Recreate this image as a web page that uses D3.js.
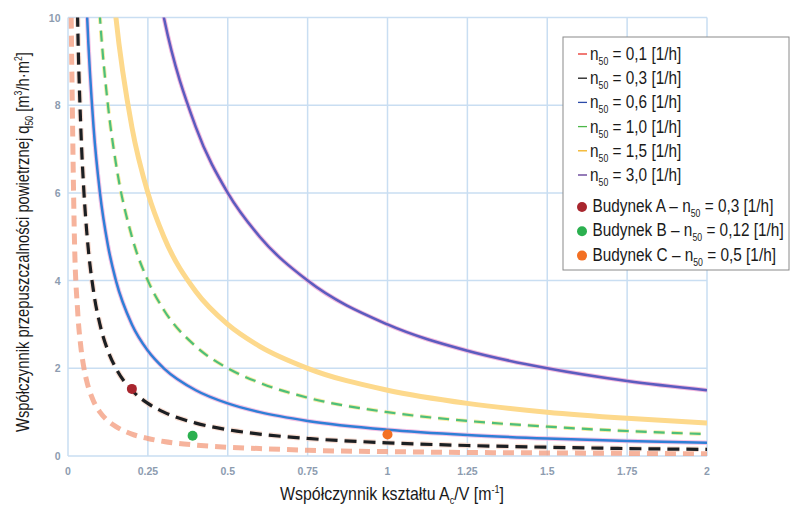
<!DOCTYPE html>
<html><head><meta charset="utf-8">
<script src="https://cdn.jsdelivr.net/npm/d3@7"></script>
<style>body{margin:0;background:#fff}</style></head>
<body><svg id="c" width="800" height="507"></svg>
<script>
// Shape factor A/V (x) values at which curves were read
const xs = [0.01,0.02,0.03,0.04,0.05,0.06,0.08,0.1,0.125,0.15,0.2,0.25,0.3,0.4,0.5,0.6,0.75,1,1.25,1.5,1.75,2];
// q50
const q01 = [10,5,3.33,2.5,2,1.67,1.25,1,0.8,0.67,0.5,0.4,0.33,0.25,0.2,0.17,0.13,0.1,0.08,0.07,0.06,0.05];
const q03 = [30,15,10,7.5,6,5,3.75,3,2.4,2,1.5,1.2,1,0.75,0.6,0.5,0.4,0.3,0.24,0.2,0.17,0.15];
const q06 = [60,30,20,15,12,10,7.5,6,4.8,4,3,2.4,2,1.5,1.2,1,0.8,0.6,0.48,0.4,0.34,0.3];
const q10 = [100,50,33,25,20,16.7,12.5,10,8,6.67,5,4,3.33,2.5,2,1.67,1.33,1,0.8,0.67,0.57,0.5];
const q15 = [150,75,50,37.5,30,25,18.75,15,12,10,7.5,6,5,3.75,3,2.5,2,1.5,1.2,1,0.86,0.75];
const q30 = [300,150,100,75,60,50,37.5,30,24,20,15,12,10,7.5,6,5,4,3,2.4,2,1.71,1.5];
const seriesNames = ["0,1","0,3","0,6","1,0","1,5","3,0"];
const legendColors = ["#e8322a","#1a1a1a","#2b4aa8","#4cb748","#f2b01e","#5b3592"];
// Buildings
const bNames = ["A","B","C"];
const bX = [0.2,0.39,1.0];
const bQ = [1.53,0.46,0.49];
const bN = ["0,3","0,12","0,5"];
const bColors = ["#a8262e","#2bb04f","#f37023"];
// ticks
const xTicks = [0,0.25,0.5,0.75,1,1.25,1.5,1.75,2];
const xTickLabels = ["0","0.25","0.5","0.75","1","1.25","1.5","1.75","2"];
const yTicks = [0,2,4,6,8,10];

const svg = d3.select("#c");
const x = d3.scaleLinear().domain([0,2]).range([68,707]);
const y = d3.scaleLinear().domain([0,10]).range([456,17.5]);
const FONT = "'Liberation Sans','Arial',sans-serif";

svg.append("defs").append("clipPath").attr("id","clip")
  .append("rect").attr("x",x(0)).attr("y",y(10)).attr("width",x(2)-x(0)).attr("height",y(0)-y(10));

// grid
const g = svg.append("g");
g.selectAll("line.v").data(xTicks).join("line")
  .attr("x1",d=>x(d)).attr("x2",d=>x(d)).attr("y1",y(10)).attr("y2",y(0))
  .attr("stroke","#c9def2").attr("stroke-width",1.5);
g.selectAll("line.h").data(yTicks).join("line")
  .attr("x1",x(0)).attr("x2",x(2)).attr("y1",d=>y(d)).attr("y2",d=>y(d))
  .attr("stroke","#c9def2").attr("stroke-width",1.5);

// tick labels
g.selectAll("text.xt").data(xTicks).join("text")
  .attr("x",d=>x(d)).attr("y",474.5).attr("text-anchor","middle")
  .attr("font-family",FONT).attr("font-size",10.5).attr("font-weight","bold")
  .attr("fill","#8d9cb0").text((d,i)=>xTickLabels[i]);
g.selectAll("text.yt").data(yTicks).join("text")
  .attr("x",60.5).attr("y",d=>y(d)+4).attr("text-anchor","end")
  .attr("font-family",FONT).attr("font-size",10.5).attr("font-weight","bold")
  .attr("fill","#8d9cb0").text(d=>d);

// curves
const line = d3.line().x((d,i)=>x(xs[i])).y(d=>y(d)).curve(d3.curveMonotoneX);
const plot = svg.append("g").attr("clip-path","url(#clip)");
const styles = [
  {data:q01, layers:[{c:"#f4a083",w:5,dash:"11,7",o:0.8}]},
  {data:q03, layers:[{c:"#f6c9b8",w:5.5,dash:"12,7",o:0.6},{c:"#1c1f22",w:3.2,dash:"12,7",o:1}]},
  {data:q06, layers:[{c:"#f1b3de",w:4.5,o:0.8},{c:"#2f7fd6",w:2.5,o:1}]},
  {data:q10, layers:[{c:"#f3e06a",w:4,dash:"11,7",o:0.6},{c:"#4dbf7a",w:2.2,dash:"11,7",o:1}]},
  {data:q15, layers:[{c:"#fdd98c",w:5,o:1}]},
  {data:q30, layers:[{c:"#f0a8d6",w:4.5,o:0.8},{c:"#5b5cbf",w:2.5,o:1}]}
];
styles.forEach(s=>{
  s.layers.forEach(l=>{
    plot.append("path").datum(s.data).attr("d",line).attr("fill","none")
      .attr("stroke",l.c).attr("stroke-width",l.w).attr("stroke-opacity",l.o)
      .attr("stroke-dasharray",l.dash||null);
  });
});

// building points
svg.selectAll("circle.b").data(bNames).join("circle")
  .attr("cx",(d,i)=>x(bX[i])).attr("cy",(d,i)=>y(bQ[i])).attr("r",5)
  .attr("fill",(d,i)=>bColors[i]);

// helper: condensed text by horizontal scale to a target width
function fitGroup(parent, tx, ty, rot, targetW, anchor, fs){
  const outer = parent.append("g").attr("transform",`translate(${tx},${ty}) rotate(${rot})`);
  const inner = outer.append("g");
  const t = inner.append("text").attr("x",0).attr("y",0)
    .attr("font-family",FONT).attr("font-size",fs).attr("fill","#1a1a1a");
  return {t, fit(){
    const w = t.node().getBBox().width;
    const s = targetW / w;
    const off = anchor==="middle" ? -targetW/2 : 0;
    inner.attr("transform",`translate(${off},0) scale(${s},1)`);
  }};
}

// axis titles
const xt = fitGroup(svg, 392, 500, 0, 224, "middle", 17.5);
xt.t.append("tspan").text("Współczynnik kształtu A");
xt.t.append("tspan").attr("font-size",10).attr("dy",4).text("c");
xt.t.append("tspan").attr("dy",-4).text("/V [m");
xt.t.append("tspan").attr("font-size",10).attr("dy",-7).text("-1");
xt.t.append("tspan").attr("dy",7).text("]");
xt.fit();

const yt = fitGroup(svg, 29, 242, -90, 380, "middle", 18);
yt.t.append("tspan").text("Współczynnik przepuszczalności powietrznej q");
yt.t.append("tspan").attr("font-size",10.5).attr("dy",4).text("50");
yt.t.append("tspan").attr("dy",-4).text(" [m");
yt.t.append("tspan").attr("font-size",10.5).attr("dy",-7).text("3");
yt.t.append("tspan").attr("dy",7).text("/h·m");
yt.t.append("tspan").attr("font-size",10.5).attr("dy",-7).text("2");
yt.t.append("tspan").attr("dy",7).text("]");
yt.fit();

// legend
const lg = svg.append("g");
lg.append("rect").attr("x",563).attr("y",37).attr("width",226).attr("height",233)
  .attr("fill","#fff").attr("stroke","#8a8a8a").attr("stroke-width",1);

const LFS = 18.5;
// measure the scale from the widest entry (Budynek A row -> 181px wide)
const probe = fitGroup(lg, 593, 212, 0, 181, "start", LFS);
probe.t.append("tspan").text("Budynek A – n");
probe.t.append("tspan").attr("font-size",10.5).attr("dy",5).text("50");
probe.t.append("tspan").attr("dy",-5).text(" = 0,3 [1/h]");
const legScale = 181 / probe.t.node().getBBox().width;
probe.t.remove();

function legText(tx, ty){
  const gg = lg.append("g").attr("transform",`translate(${tx},${ty}) scale(${legScale},1)`);
  return gg.append("text").attr("font-family",FONT).attr("font-size",LFS).attr("fill","#1a1a1a");
}
seriesNames.forEach((n,i)=>{
  const by = 60 + i*24.2;
  lg.append("line").attr("x1",578).attr("x2",587).attr("y1",by-6).attr("y2",by-6)
    .attr("stroke",legendColors[i]).attr("stroke-width",1.3);
  const t = legText(590, by);
  t.append("tspan").text("n");
  t.append("tspan").attr("font-size",10.5).attr("dy",5).text("50");
  t.append("tspan").attr("dy",-5).text(" = "+n+" [1/h]");
});
bNames.forEach((b,i)=>{
  const by = 212 + i*24.3;
  lg.append("circle").attr("cx",582).attr("cy",by-5).attr("r",5).attr("fill",bColors[i]);
  const t = legText(592.5, by);
  t.append("tspan").text("Budynek "+b+" – n");
  t.append("tspan").attr("font-size",10.5).attr("dy",5).text("50");
  t.append("tspan").attr("dy",-5).text(" = "+bN[i]+" [1/h]");
});
</script></body></html>
